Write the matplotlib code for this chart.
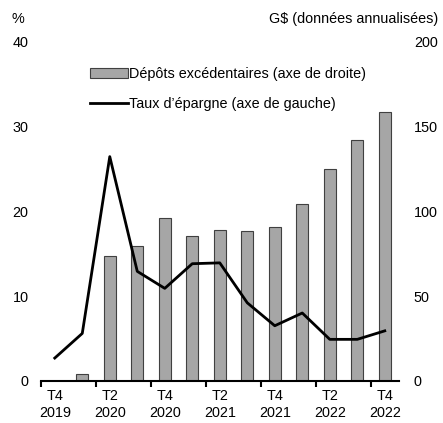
import matplotlib
matplotlib.use('Agg')
import matplotlib.pyplot as plt
import numpy as np

plt.rcParams['font.family'] = ['Liberation Sans', 'DejaVu Sans']
plt.rcParams['font.size'] = 10.4

quarters = ['T4\n2019', '', 'T2\n2020', '', 'T4\n2020', '', 'T2\n2021', '',
            'T4\n2021', '', 'T2\n2022', '', 'T4\n2022']
epargne = [2.7, 5.6, 26.4, 12.9, 10.9, 13.8, 13.9, 9.2, 6.5, 8.0, 4.9, 4.9, 5.9]
depots = [0, 4, 73.5, 79.5, 96, 85.5, 89, 88.5, 90.5, 104, 124.5, 141.5, 158.5]

x = np.arange(len(quarters))

fig = plt.figure(figsize=(4.43, 4.23), dpi=100)
ax = fig.add_axes([0.0926, 0.0993, 0.807, 0.8037])
ax2 = ax.twinx()

bars = ax2.bar(x, depots, width=0.43, color='#a6a6a6', edgecolor='#404040', linewidth=0.8,
               label='Dépôts excédentaires (axe de droite)')
ax.set_zorder(ax2.get_zorder() + 1)
ax.patch.set_visible(False)
line, = ax.plot(x, epargne, color='black', linewidth=2,
                label="Taux d\u2019épargne (axe de gauche)")

ax.set_xlim(-0.5, len(x) - 0.5)
ax.set_ylim(0, 40)
ax2.set_ylim(0, 200)
ax.set_yticks([0, 10, 20, 30, 40])
ax2.set_yticks([0, 50, 100, 150, 200])

ax.set_xticks(x[::2])
ax.set_xticklabels([quarters[i] for i in x[::2]])
ax.set_xticks(np.arange(-0.5, len(x), 2), minor=True)
ax.tick_params(axis='x', which='major', length=0, pad=6)
ax.tick_params(axis='x', which='minor', length=4, width=1.5, direction='out')
ax.tick_params(axis='y', length=0, pad=9)
ax2.tick_params(axis='y', length=0, pad=11)
ax2.tick_params(axis='x', length=0)

for a in (ax, ax2):
    for s in ['top', 'left', 'right']:
        a.spines[s].set_visible(False)
ax.spines['bottom'].set_linewidth(1.5)
ax2.spines['bottom'].set_visible(False)

fig.text(0.025, 0.955, '%', ha='left', va='center')
fig.text(0.99, 0.955, 'G$ (données annualisées)', ha='right', va='center')

leg = fig.legend([bars, line], [bars.get_label(), line.get_label()],
                 loc='center left', bbox_to_anchor=(0.19, 0.79), frameon=False,
                 handlelength=2.6, handletextpad=0.1, labelspacing=1.1,
                 borderaxespad=0)

fig.savefig('out.png', dpi=100)
